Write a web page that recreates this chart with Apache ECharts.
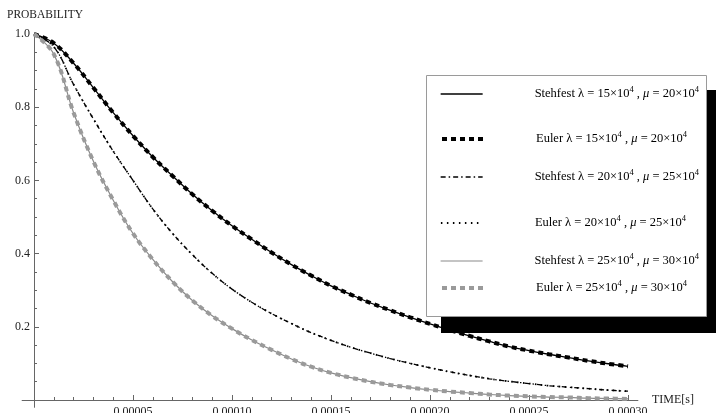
<!DOCTYPE html>
<html>
<head>
<meta charset="utf-8">
<script src="https://cdn.jsdelivr.net/npm/echarts@6/dist/echarts.min.js"></script>
<style>
  html, body { margin: 0; padding: 0; background: #fff; }
  #chart { width: 716px; height: 413px; }
</style>
</head>
<body>
<div id="chart"></div>
<script>
// Sampling times (s)
const timeS = [0, 0.00001, 0.00002, 0.00003, 0.00004, 0.00005, 0.00006, 0.00007, 0.00008, 0.00009,
  0.00010, 0.00011, 0.00012, 0.00013, 0.00014, 0.00015, 0.00016, 0.00017, 0.00018, 0.00019,
  0.00020, 0.00021, 0.00022, 0.00023, 0.00024, 0.00025, 0.00026, 0.00027, 0.00028, 0.00029, 0.00030];

// λ = 15×10^4, μ = 20×10^4
const stehfest15 = [1.000, 0.975, 0.920, 0.853, 0.785, 0.722, 0.664, 0.612, 0.562, 0.517,
  0.476, 0.439, 0.403, 0.370, 0.340, 0.312, 0.288, 0.265, 0.245, 0.226,
  0.208, 0.191, 0.175, 0.160, 0.146, 0.135, 0.125, 0.116, 0.107, 0.099, 0.092];
const euler15 = [1.000, 0.975, 0.920, 0.853, 0.785, 0.722, 0.664, 0.612, 0.562, 0.517,
  0.476, 0.439, 0.403, 0.370, 0.340, 0.312, 0.288, 0.265, 0.245, 0.226,
  0.208, 0.191, 0.175, 0.160, 0.146, 0.135, 0.125, 0.116, 0.107, 0.099, 0.092];

// λ = 20×10^4, μ = 25×10^4
const stehfest20 = [1.000, 0.965, 0.862, 0.768, 0.680, 0.600, 0.522, 0.455, 0.397, 0.346,
  0.303, 0.267, 0.236, 0.209, 0.184, 0.163, 0.144, 0.128, 0.113, 0.100,
  0.088, 0.077, 0.067, 0.058, 0.051, 0.045, 0.039, 0.035, 0.031, 0.027, 0.024];
const euler20 = [1.000, 0.965, 0.862, 0.768, 0.680, 0.600, 0.522, 0.455, 0.397, 0.346,
  0.303, 0.267, 0.236, 0.209, 0.184, 0.163, 0.144, 0.128, 0.113, 0.100,
  0.088, 0.077, 0.067, 0.058, 0.051, 0.045, 0.039, 0.035, 0.031, 0.027, 0.024];

// λ = 25×10^4, μ = 30×10^4
const stehfest25 = [1.000, 0.945, 0.785, 0.652, 0.546, 0.455, 0.384, 0.323, 0.272, 0.230,
  0.195, 0.164, 0.137, 0.112, 0.091, 0.074, 0.061, 0.050, 0.041, 0.034,
  0.028, 0.023, 0.019, 0.015, 0.012, 0.010, 0.008, 0.007, 0.005, 0.004, 0.003];
const euler25 = [1.000, 0.945, 0.785, 0.652, 0.546, 0.455, 0.384, 0.323, 0.272, 0.230,
  0.195, 0.164, 0.137, 0.112, 0.091, 0.074, 0.061, 0.050, 0.041, 0.034,
  0.028, 0.023, 0.019, 0.015, 0.012, 0.010, 0.008, 0.007, 0.005, 0.004, 0.003];

// Tick positions
const xMajorTicks = [0.00005, 0.00010, 0.00015, 0.00020, 0.00025, 0.00030];
const xMinorTicks = [0.00001, 0.00002, 0.00003, 0.00004, 0.00006, 0.00007, 0.00008, 0.00009,
  0.00011, 0.00012, 0.00013, 0.00014, 0.00016, 0.00017, 0.00018, 0.00019,
  0.00021, 0.00022, 0.00023, 0.00024, 0.00026, 0.00027, 0.00028, 0.00029];
const yMajorTicks = [0.2, 0.4, 0.6, 0.8, 1.0];
const yMinorTicks = [0.05, 0.1, 0.15, 0.25, 0.3, 0.35, 0.45, 0.5, 0.55, 0.65, 0.7, 0.75, 0.85, 0.9, 0.95];

// Legend entries: [series name, method, λ, μ]
const legendEntries = [
  ['Stehfest 15', 'Stehfest', '15', '20'],
  ['Euler 15', 'Euler', '15', '20'],
  ['Stehfest 20', 'Stehfest', '20', '25'],
  ['Euler 20', 'Euler', '20', '25'],
  ['Stehfest 25', 'Stehfest', '25', '30'],
  ['Euler 25', 'Euler', '25', '30']
];

const SERIF = '"Liberation Serif", "Times New Roman", serif';
const AXIS_COLOR = '#666';
const TEXT_COLOR = '#222';

// Line styles shared by the curves and their legend samples
const styles = {
  'Stehfest 15': { color: '#000', width: 1.3, type: 'solid' },
  'Euler 15': { color: '#000', width: 4, type: [5, 4] },
  'Stehfest 20': { color: '#000', width: 1.3, type: [5, 3, 1.5, 3] },
  'Euler 20': { color: '#000', width: 1.8, type: [1.5, 4.5] },
  'Stehfest 25': { color: '#8a8a8a', width: 1.2, type: 'solid' },
  'Euler 25': { color: '#9a9a9a', width: 4, type: [5, 4] }
};

function pairs(values) {
  return timeS.map((t, i) => [t, values[i]]);
}

function curve(name, values, z) {
  return {
    name: name,
    type: 'line',
    data: pairs(values),
    symbol: 'none',
    showSymbol: false,
    smooth: 0.4,
    lineStyle: Object.assign({ cap: 'butt' }, styles[name]),
    itemStyle: { color: styles[name].color },
    z: z,
    silent: true
  };
}

const series = [
  curve('Stehfest 15', stehfest15, 2),
  curve('Euler 15', euler15, 3),
  curve('Stehfest 20', stehfest20, 2),
  curve('Euler 20', euler20, 3),
  curve('Stehfest 25', stehfest25, 2),
  curve('Euler 25', euler25, 3)
];

// One legend component per row so each row sits at its own height
const rowCenters = [94, 139, 177, 223, 261, 288];
const legends = legendEntries.map((e, i) => ({
  data: [e[0]],
  left: 440,
  top: rowCenters[i] - 9,
  padding: 0,
  itemWidth: 42,
  itemHeight: 10,
  selectedMode: false,
  z: 30,
  itemStyle: { opacity: 0, borderWidth: 0 },
  lineStyle: {
    color: styles[e[0]].color,
    width: styles[e[0]].width,
    type: styles[e[0]].type,
    cap: 'butt',
    opacity: 1
  },
  formatter: function () {
    return '{g| }{n|' + e[1] + ' λ = ' + e[2] + '×10}{s|4}{n| , }{i|μ}{n| = ' + e[3] + '×10}{s|4}';
  },
  textStyle: {
    fontFamily: SERIF,
    fontSize: 12.5,
    color: '#000',
    rich: {
      g: { width: 47, lineHeight: 18 },
      n: { fontFamily: SERIF, fontSize: 12.5, color: '#000', lineHeight: 18 },
      i: { fontFamily: SERIF, fontSize: 12.5, fontStyle: 'italic', color: '#000', lineHeight: 18 },
      s: { fontFamily: SERIF, fontSize: 8.5, color: '#000', lineHeight: 9, padding: [0, 0, 9, 0] }
    }
  }
}));

const chart = echarts.init(document.getElementById('chart'), null, { renderer: 'canvas' });

chart.setOption({
  animation: false,
  backgroundColor: '#fff',
  grid: {
    left: 22.12, right: 78.1, top: 34, bottom: 5.68,
    containLabel: false,
    outerBoundsMode: 'none'
  },
  xAxis: [
    {
      type: 'value',
      min: -0.000006,
      max: 0.000305,
      position: 'bottom',
      name: 'TIME[s]',
      nameLocation: 'end',
      nameGap: 14,
      nameTextStyle: { fontFamily: SERIF, fontSize: 12, color: TEXT_COLOR },
      axisLine: { show: true, onZero: true, lineStyle: { color: AXIS_COLOR, width: 1 } },
      axisTick: { show: true, inside: true, length: 5, customValues: xMajorTicks, lineStyle: { color: AXIS_COLOR } },
      axisLabel: {
        show: true,
        customValues: xMajorTicks,
        margin: -1,
        fontFamily: SERIF,
        fontSize: 12,
        color: TEXT_COLOR,
        formatter: v => v.toFixed(5)
      },
      splitLine: { show: false }
    },
    {
      type: 'value',
      min: -0.000006,
      max: 0.000305,
      position: 'bottom',
      axisLine: { show: true, onZero: true, lineStyle: { opacity: 0 } },
      axisTick: { show: true, inside: true, length: 3, customValues: xMinorTicks, lineStyle: { color: AXIS_COLOR } },
      axisLabel: { show: false },
      splitLine: { show: false }
    }
  ],
  yAxis: [
    {
      type: 'value',
      min: -0.02,
      max: 1.0,
      position: 'left',
      axisLine: { show: true, onZero: true, lineStyle: { color: AXIS_COLOR, width: 1 } },
      axisTick: { show: true, inside: true, length: 5, customValues: yMajorTicks, lineStyle: { color: AXIS_COLOR } },
      axisLabel: {
        show: true,
        customValues: yMajorTicks,
        margin: -8,
        fontFamily: SERIF,
        fontSize: 12,
        color: TEXT_COLOR,
        formatter: v => v.toFixed(1)
      },
      splitLine: { show: false }
    },
    {
      type: 'value',
      min: -0.02,
      max: 1.0,
      position: 'left',
      axisLine: { show: true, onZero: true, lineStyle: { opacity: 0 } },
      axisTick: { show: true, inside: true, length: 3, customValues: yMinorTicks, lineStyle: { color: AXIS_COLOR } },
      axisLabel: { show: false },
      splitLine: { show: false }
    }
  ],
  legend: legends,
  graphic: [
    {
      type: 'text',
      x: 7,
      y: 15,
      style: { text: 'PROBABILITY', font: '11.5px ' + SERIF, fill: TEXT_COLOR, verticalAlign: 'middle' }
    },
    {
      type: 'rect',
      z: 20,
      shape: { x: 441, y: 90, width: 290, height: 243 },
      style: { fill: '#000' }
    },
    {
      type: 'rect',
      z: 21,
      shape: { x: 426.5, y: 75.5, width: 280, height: 241 },
      style: { fill: '#fff', stroke: '#9a9a9a', lineWidth: 1 }
    }
  ],
  series: series
});
</script>
</body>
</html>
